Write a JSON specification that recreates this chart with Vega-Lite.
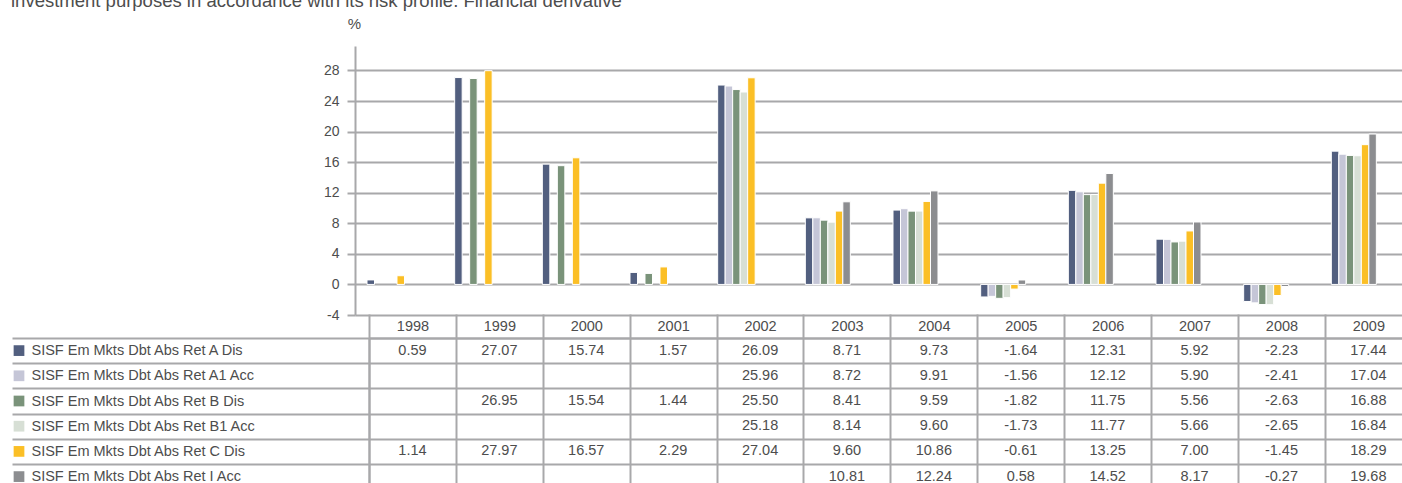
{
  "$schema": "https://vega.github.io/schema/vega-lite/v6.json",
  "padding": {"left": 11, "top": -9, "right": 0, "bottom": 0},
  "background": "white",
  "title": {"text": "investment purposes in accordance with its risk profile. Financial derivative", "anchor": "start", "fontSize": 18.5, "font": "Liberation Sans", "fontWeight": "normal", "color": "#4d4d4d", "offset": 6},
  "config": {
    "view": {"stroke": null},
    "font": "Liberation Sans",
    "locale": {"number": {"decimal": ".", "thousands": ",", "grouping": [3], "currency": ["$", ""], "minus": "-"}}
  },
  "datasets": {
    "returns": [
      {"year": "1998", "series": "SISF Em Mkts Dbt Abs Ret A Dis", "value": 0.59},
      {"year": "1999", "series": "SISF Em Mkts Dbt Abs Ret A Dis", "value": 27.07},
      {"year": "2000", "series": "SISF Em Mkts Dbt Abs Ret A Dis", "value": 15.74},
      {"year": "2001", "series": "SISF Em Mkts Dbt Abs Ret A Dis", "value": 1.57},
      {"year": "2002", "series": "SISF Em Mkts Dbt Abs Ret A Dis", "value": 26.09},
      {"year": "2003", "series": "SISF Em Mkts Dbt Abs Ret A Dis", "value": 8.71},
      {"year": "2004", "series": "SISF Em Mkts Dbt Abs Ret A Dis", "value": 9.73},
      {"year": "2005", "series": "SISF Em Mkts Dbt Abs Ret A Dis", "value": -1.64},
      {"year": "2006", "series": "SISF Em Mkts Dbt Abs Ret A Dis", "value": 12.31},
      {"year": "2007", "series": "SISF Em Mkts Dbt Abs Ret A Dis", "value": 5.92},
      {"year": "2008", "series": "SISF Em Mkts Dbt Abs Ret A Dis", "value": -2.23},
      {"year": "2009", "series": "SISF Em Mkts Dbt Abs Ret A Dis", "value": 17.44},
      {"year": "2002", "series": "SISF Em Mkts Dbt Abs Ret A1 Acc", "value": 25.96},
      {"year": "2003", "series": "SISF Em Mkts Dbt Abs Ret A1 Acc", "value": 8.72},
      {"year": "2004", "series": "SISF Em Mkts Dbt Abs Ret A1 Acc", "value": 9.91},
      {"year": "2005", "series": "SISF Em Mkts Dbt Abs Ret A1 Acc", "value": -1.56},
      {"year": "2006", "series": "SISF Em Mkts Dbt Abs Ret A1 Acc", "value": 12.12},
      {"year": "2007", "series": "SISF Em Mkts Dbt Abs Ret A1 Acc", "value": 5.90},
      {"year": "2008", "series": "SISF Em Mkts Dbt Abs Ret A1 Acc", "value": -2.41},
      {"year": "2009", "series": "SISF Em Mkts Dbt Abs Ret A1 Acc", "value": 17.04},
      {"year": "1999", "series": "SISF Em Mkts Dbt Abs Ret B Dis", "value": 26.95},
      {"year": "2000", "series": "SISF Em Mkts Dbt Abs Ret B Dis", "value": 15.54},
      {"year": "2001", "series": "SISF Em Mkts Dbt Abs Ret B Dis", "value": 1.44},
      {"year": "2002", "series": "SISF Em Mkts Dbt Abs Ret B Dis", "value": 25.50},
      {"year": "2003", "series": "SISF Em Mkts Dbt Abs Ret B Dis", "value": 8.41},
      {"year": "2004", "series": "SISF Em Mkts Dbt Abs Ret B Dis", "value": 9.59},
      {"year": "2005", "series": "SISF Em Mkts Dbt Abs Ret B Dis", "value": -1.82},
      {"year": "2006", "series": "SISF Em Mkts Dbt Abs Ret B Dis", "value": 11.75},
      {"year": "2007", "series": "SISF Em Mkts Dbt Abs Ret B Dis", "value": 5.56},
      {"year": "2008", "series": "SISF Em Mkts Dbt Abs Ret B Dis", "value": -2.63},
      {"year": "2009", "series": "SISF Em Mkts Dbt Abs Ret B Dis", "value": 16.88},
      {"year": "2002", "series": "SISF Em Mkts Dbt Abs Ret B1 Acc", "value": 25.18},
      {"year": "2003", "series": "SISF Em Mkts Dbt Abs Ret B1 Acc", "value": 8.14},
      {"year": "2004", "series": "SISF Em Mkts Dbt Abs Ret B1 Acc", "value": 9.60},
      {"year": "2005", "series": "SISF Em Mkts Dbt Abs Ret B1 Acc", "value": -1.73},
      {"year": "2006", "series": "SISF Em Mkts Dbt Abs Ret B1 Acc", "value": 11.77},
      {"year": "2007", "series": "SISF Em Mkts Dbt Abs Ret B1 Acc", "value": 5.66},
      {"year": "2008", "series": "SISF Em Mkts Dbt Abs Ret B1 Acc", "value": -2.65},
      {"year": "2009", "series": "SISF Em Mkts Dbt Abs Ret B1 Acc", "value": 16.84},
      {"year": "1998", "series": "SISF Em Mkts Dbt Abs Ret C Dis", "value": 1.14},
      {"year": "1999", "series": "SISF Em Mkts Dbt Abs Ret C Dis", "value": 27.97},
      {"year": "2000", "series": "SISF Em Mkts Dbt Abs Ret C Dis", "value": 16.57},
      {"year": "2001", "series": "SISF Em Mkts Dbt Abs Ret C Dis", "value": 2.29},
      {"year": "2002", "series": "SISF Em Mkts Dbt Abs Ret C Dis", "value": 27.04},
      {"year": "2003", "series": "SISF Em Mkts Dbt Abs Ret C Dis", "value": 9.60},
      {"year": "2004", "series": "SISF Em Mkts Dbt Abs Ret C Dis", "value": 10.86},
      {"year": "2005", "series": "SISF Em Mkts Dbt Abs Ret C Dis", "value": -0.61},
      {"year": "2006", "series": "SISF Em Mkts Dbt Abs Ret C Dis", "value": 13.25},
      {"year": "2007", "series": "SISF Em Mkts Dbt Abs Ret C Dis", "value": 7.00},
      {"year": "2008", "series": "SISF Em Mkts Dbt Abs Ret C Dis", "value": -1.45},
      {"year": "2009", "series": "SISF Em Mkts Dbt Abs Ret C Dis", "value": 18.29},
      {"year": "2003", "series": "SISF Em Mkts Dbt Abs Ret I Acc", "value": 10.81},
      {"year": "2004", "series": "SISF Em Mkts Dbt Abs Ret I Acc", "value": 12.24},
      {"year": "2005", "series": "SISF Em Mkts Dbt Abs Ret I Acc", "value": 0.58},
      {"year": "2006", "series": "SISF Em Mkts Dbt Abs Ret I Acc", "value": 14.52},
      {"year": "2007", "series": "SISF Em Mkts Dbt Abs Ret I Acc", "value": 8.17},
      {"year": "2008", "series": "SISF Em Mkts Dbt Abs Ret I Acc", "value": -0.27},
      {"year": "2009", "series": "SISF Em Mkts Dbt Abs Ret I Acc", "value": 19.68}
    ],
    "seriesList": [
      {"series": "SISF Em Mkts Dbt Abs Ret A Dis"},
      {"series": "SISF Em Mkts Dbt Abs Ret A1 Acc"},
      {"series": "SISF Em Mkts Dbt Abs Ret B Dis"},
      {"series": "SISF Em Mkts Dbt Abs Ret B1 Acc"},
      {"series": "SISF Em Mkts Dbt Abs Ret C Dis"},
      {"series": "SISF Em Mkts Dbt Abs Ret I Acc"}
    ]
  },
  "spacing": -9,
  "vconcat": [
    {
      "bounds": "flush",
      "spacing": 0,
      "hconcat": [
        {
          "width": 343,
          "height": 269,
          "data": {"values": [{}]},
          "mark": {"type": "text"},
          "encoding": {"text": {"value": ""}}
        },
        {
          "width": 1052,
          "height": 269,
          "data": {"name": "returns"},
          "mark": {"type": "bar", "stroke": "white", "strokeWidth": 1},
          "encoding": {
            "x": {
              "field": "year", "type": "nominal",
              "scale": {"domain": ["1998","1999","2000","2001","2002","2003","2004","2005","2006","2007","2008","2009"], "paddingInner": 0, "paddingOuter": 0},
              "axis": null
            },
            "xOffset": {
              "field": "series", "type": "nominal",
              "scale": {"domain": ["_pad0","SISF Em Mkts Dbt Abs Ret A Dis","SISF Em Mkts Dbt Abs Ret A1 Acc","SISF Em Mkts Dbt Abs Ret B Dis","SISF Em Mkts Dbt Abs Ret B1 Acc","SISF Em Mkts Dbt Abs Ret C Dis","SISF Em Mkts Dbt Abs Ret I Acc","_pad1","_pad2","_pad3","_pad4"], "paddingInner": 0, "paddingOuter": 0.345, "align": 0.87}
            },
            "y": {
              "field": "value", "type": "quantitative",
              "scale": {"domain": [-4, 31.2], "nice": false},
              "axis": {
                "values": [-4, 0, 4, 8, 12, 16, 20, 24, 28],
                "title": "%", "titleAngle": 0, "titleX": -1, "titleY": -23, "titleAlign": "center", "titleBaseline": "middle",
                "titleFontSize": 15, "titleFontWeight": "normal", "titleColor": "#4d4d4d", "titleFont": "Liberation Sans",
                "grid": true, "gridColor": "#a8a8aa", "gridWidth": 2,
                "domainColor": "#a8a8aa", "domainWidth": 2,
                "tickColor": "#a8a8aa", "tickWidth": 2, "tickSize": 8,
                "labelPadding": 8, "labelFontSize": 14, "labelColor": "#4d4d4d", "labelFont": "Liberation Sans"
              }
            },
            "color": {
              "field": "series", "type": "nominal",
              "scale": {"domain": ["SISF Em Mkts Dbt Abs Ret A Dis","SISF Em Mkts Dbt Abs Ret A1 Acc","SISF Em Mkts Dbt Abs Ret B Dis","SISF Em Mkts Dbt Abs Ret B1 Acc","SISF Em Mkts Dbt Abs Ret C Dis","SISF Em Mkts Dbt Abs Ret I Acc"], "range": ["#525f7f","#c5c6d7","#7a937a","#d7dfd5","#fbbf26","#8c8d90"]},
              "legend": null
            }
          }
        }
      ]
    },
    {
      "bounds": "flush",
      "spacing": 343,
      "hconcat": [
        {
          "width": 14,
          "height": 151.2,
          "data": {"name": "seriesList"},
          "mark": {"type": "square", "size": 115, "opacity": 1},
          "encoding": {
            "y": {
              "field": "series", "type": "nominal",
              "scale": {"domain": ["SISF Em Mkts Dbt Abs Ret A Dis","SISF Em Mkts Dbt Abs Ret A1 Acc","SISF Em Mkts Dbt Abs Ret B Dis","SISF Em Mkts Dbt Abs Ret B1 Acc","SISF Em Mkts Dbt Abs Ret C Dis","SISF Em Mkts Dbt Abs Ret I Acc"], "paddingInner": 0, "paddingOuter": 0},
              "axis": null
            },
            "color": {
              "field": "series", "type": "nominal",
              "scale": {"domain": ["SISF Em Mkts Dbt Abs Ret A Dis","SISF Em Mkts Dbt Abs Ret A1 Acc","SISF Em Mkts Dbt Abs Ret B Dis","SISF Em Mkts Dbt Abs Ret B1 Acc","SISF Em Mkts Dbt Abs Ret C Dis","SISF Em Mkts Dbt Abs Ret I Acc"], "range": ["#525f7f","#c5c6d7","#7a937a","#d7dfd5","#fbbf26","#8c8d90"]},
              "legend": null
            }
          }
        },
        {
          "width": 1042.8,
          "height": 151.2,
          "data": {"name": "returns"},
          "mark": {"type": "text", "fontSize": 14.5, "color": "#4d4d4d", "font": "Liberation Sans"},
          "encoding": {
            "x": {
              "field": "year", "type": "nominal",
              "scale": {"domain": ["1998","1999","2000","2001","2002","2003","2004","2005","2006","2007","2008","2009"], "paddingInner": 0, "paddingOuter": 0},
              "axis": {
                "orient": "top", "title": null, "labelAngle": 0,
                "tickBand": "extent", "tickSize": 24, "tickColor": "#a8a8aa", "tickWidth": 2,
                "grid": true, "gridColor": "#a8a8aa", "gridWidth": 2,
                "domainColor": "#a8a8aa", "domainWidth": 2,
                "labelBaseline": "middle", "labelPadding": -12, "labelFontSize": 14.5, "labelColor": "#4d4d4d", "labelFont": "Liberation Sans"
              }
            },
            "y": {
              "field": "series", "type": "nominal",
              "scale": {"domain": ["SISF Em Mkts Dbt Abs Ret A Dis","SISF Em Mkts Dbt Abs Ret A1 Acc","SISF Em Mkts Dbt Abs Ret B Dis","SISF Em Mkts Dbt Abs Ret B1 Acc","SISF Em Mkts Dbt Abs Ret C Dis","SISF Em Mkts Dbt Abs Ret I Acc"], "paddingInner": 0, "paddingOuter": 0},
              "axis": {
                "title": null,
                "tickBand": "extent", "tickSize": 357, "tickColor": "#a8a8aa", "tickWidth": 2,
                "grid": true, "gridColor": "#a8a8aa", "gridWidth": 2,
                "domainColor": "#a8a8aa", "domainWidth": 2,
                "labelAlign": "left", "labelBaseline": "middle", "labelPadding": -19, "labelLimit": 0,
                "labelFontSize": 14.5, "labelColor": "#4d4d4d", "labelFont": "Liberation Sans"
              }
            },
            "text": {"field": "value", "type": "quantitative", "format": ".2f"}
          }
        }
      ]
    }
  ]
}
